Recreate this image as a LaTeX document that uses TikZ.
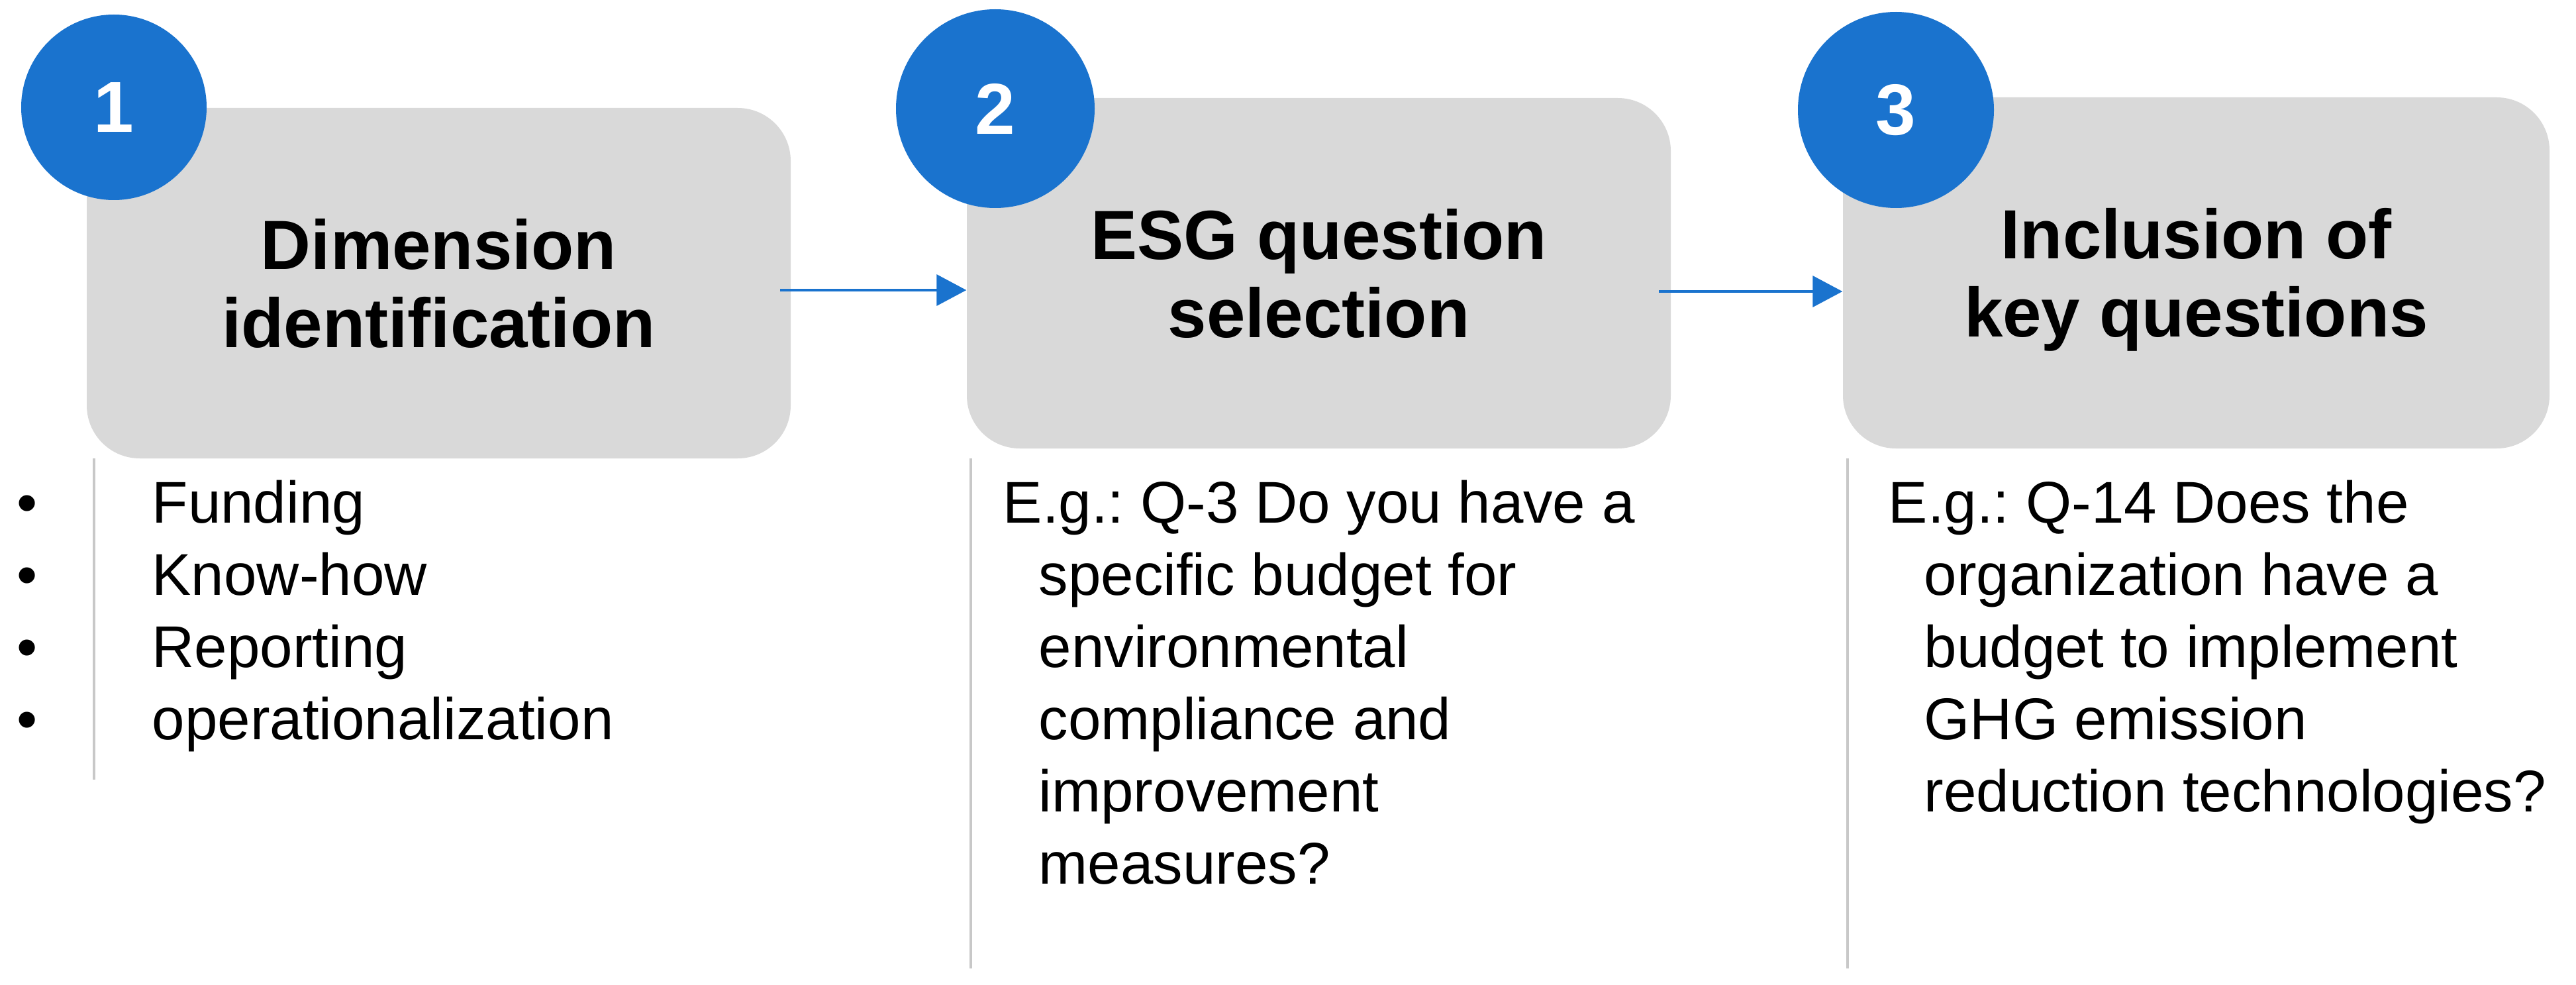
\documentclass[tikz,border=0pt]{standalone}
\usepackage{fontspec}
\setmainfont{Liberation Sans}
\usetikzlibrary{arrows.meta}
\definecolor{boxgray}{HTML}{D9D9D9}
\definecolor{stepblue}{HTML}{1A73CE}
\definecolor{rulegray}{HTML}{C8C8C8}
\newcommand\hangsp{\hspace*{0.54cm}}
\frenchspacing
\begin{document}
\begin{tikzpicture}[
  stepbox/.style={rectangle, rounded corners=0.8cm, fill=boxgray, inner sep=0pt},
  badge/.style={circle, fill=stepblue, inner sep=0pt, text=white, font=\fontsize{31pt}{36pt}\selectfont\bfseries},
  title/.style={inner sep=0pt, font=\fontsize{29.9pt}{33.6pt}\selectfont\bfseries},
  body/.style={inner sep=0pt, anchor=north west, font=\fontsize{25.3pt}{31pt}\selectfont},
  arr/.style={draw=stepblue, line width=0.035cm, -{Triangle[length=0.45cm,width=0.47cm]}},
  rulel/.style={draw=rulegray, line width=0.045cm}
]
\useasboundingbox[fill=white] (0,0) rectangle (38.9,-14.87);

% step boxes
\node[stepbox, minimum width=10.63cm, minimum height=5.29cm] (b1) at (6.625,-4.275) {};
\node[stepbox, minimum width=10.63cm, minimum height=5.29cm] (b2) at (19.915,-4.125) {};
\node[stepbox, minimum width=10.67cm, minimum height=5.30cm] (b3) at (33.165,-4.12) {};

% number badges
\node[badge, minimum size=2.80cm] (c1) at (1.72,-1.62) {1};
\node[badge, minimum size=3.00cm] (c2) at (15.03,-1.64) {2};
\node[badge, minimum size=2.96cm] (c3) at (28.63,-1.66) {3};

% titles
\node[title] (t1) at (6.625,-4.415) {\begin{tabular}{@{}c@{}}Dimension\\identification\end{tabular}};
\node[title] (t2) at (19.915,-4.265) {\begin{tabular}{@{}c@{}}ESG question\\selection\end{tabular}};
\node[title] (t3) at (33.165,-4.26) {\begin{tabular}{@{}c@{}}Inclusion of\\key questions\end{tabular}};

% arrows
\coordinate (a1s) at (11.78,-4.38);
\coordinate (a2s) at (25.05,-4.40);
\draw[arr] (a1s) -- (b2.west |- a1s);
\draw[arr] (a2s) -- (b3.west |- a2s);

% vertical rules
\draw[rulel] (1.42,-6.92) -- (1.42,-11.77);
\draw[rulel] (14.66,-6.92) -- (14.66,-14.62);
\draw[rulel] (27.90,-6.92) -- (27.90,-14.62);

% lower texts
\node[body] (l1) at (0.25,-7.127) {\begin{tabular}{@{}p{2.04cm}@{}l@{}}•&Funding\\•&Know-how\\•&Reporting\\•&operationalization\end{tabular}};
\node[body] (l2) at (15.14,-7.127) {\begin{tabular}{@{}l@{}}E.g.: Q-3 Do you have a\\\hangsp specific budget for\\\hangsp environmental\\\hangsp compliance and\\\hangsp improvement\\\hangsp measures?\end{tabular}};
\node[body] (l3) at (28.51,-7.127) {\begin{tabular}{@{}l@{}}E.g.: Q-14 Does the\\\hangsp organization have a\\\hangsp budget to implement\\\hangsp GHG emission\\\hangsp reduction technologies?\end{tabular}};
\end{tikzpicture}
\end{document}
